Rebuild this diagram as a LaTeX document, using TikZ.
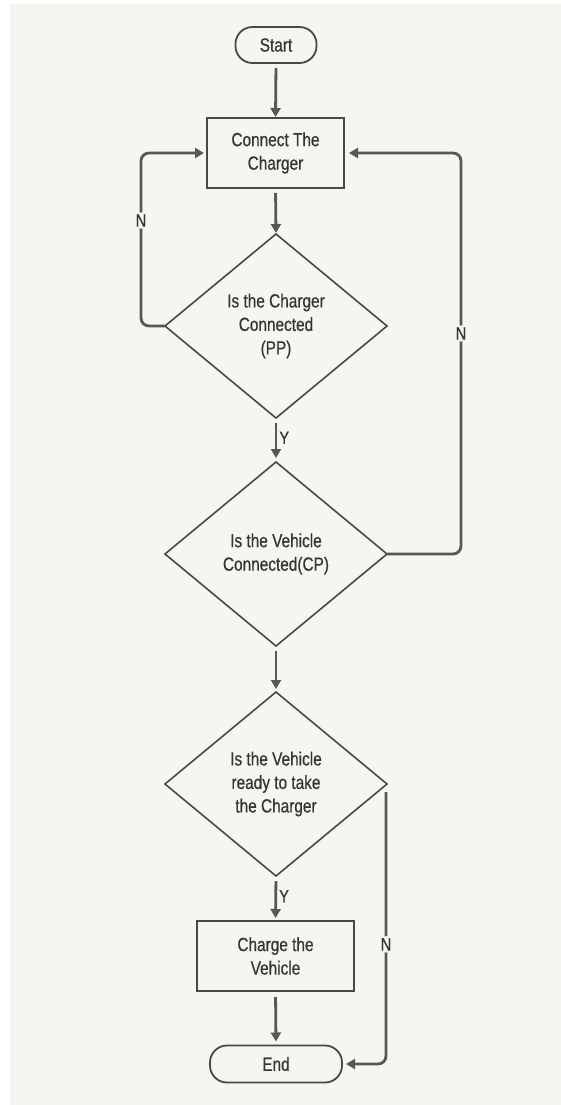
\documentclass[tikz,border=0pt]{standalone}
\usepackage{fontspec}
\setmainfont{Liberation Sans}[FakeStretch=0.81,FakeBold=0.6]
\usetikzlibrary{shapes.geometric,arrows.meta}
\definecolor{bgcol}{HTML}{F7F5F0}
\definecolor{shapecol}{HTML}{484848}
\definecolor{linecol}{HTML}{575757}
\definecolor{txtcol}{HTML}{353535}
\tikzset{
  basefont/.style={font=\fontsize{19}{23.5}\selectfont, text=txtcol, align=center},
  terminal/.style={basefont, draw=shapecol, line width=1.8pt, rectangle, rounded corners=17pt, inner sep=0pt, outer sep=0pt},
  process/.style={basefont, draw=shapecol, line width=1.8pt, rectangle, inner sep=0pt, outer sep=0pt},
  decision/.style={basefont, draw=shapecol, line width=1.6pt, diamond, inner sep=0pt, outer sep=0pt, minimum width=222pt, minimum height=184pt},
  conn/.style={draw=linecol, line width=2.8pt, rounded corners=8pt, -{Triangle[length=9pt,width=10pt]}},
  lab/.style={font=\fontsize{18}{20}\selectfont, text=txtcol, fill=bgcol, inner sep=2pt},
  ylab/.style={font=\fontsize{18}{20}\selectfont, text=txtcol, inner sep=2pt}
}
\begin{document}
\begin{tikzpicture}[x=1pt,y=-1pt]
\useasboundingbox (0,0) rectangle (561,1105);
\fill[white] (0,0) rectangle (561,1105);
\fill[bgcol] (10,4) rectangle (561,1105);

\node[terminal, minimum width=81pt, minimum height=36pt] (start) at (276,45) {Start};
\node[process, minimum width=137pt, minimum height=70pt] (box1) at (275.5,153) {Connect The\\Charger};
\node[decision] (d1) at (276,326) {Is the Charger\\Connected\\(PP)};
\node[decision] (d2) at (276,554) {Is the Vehicle\\Connected(CP)};
\node[decision] (d3) at (276,784) {Is the Vehicle\\ready to take\\the Charger};
\node[process, minimum width=157pt, minimum height=70pt] (box2) at (275.5,956) {Charge the\\Vehicle};
\node[terminal, minimum width=132pt, minimum height=37pt] (endn) at (276,1064) {End};

\coordinate (L1) at (141,326);
\coordinate (L2) at (141,153);
\coordinate (R1) at (461,554);
\coordinate (R2) at (461,153);

\draw[conn, shorten <=5pt, shorten >=1pt] (start.south) -- (box1.north);
\draw[conn, shorten <=5pt, shorten >=1pt] (box1.south) -- (d1.north);
\draw[conn] (d1.west) -- (L1) -- node[pos=0.61, lab]{N} (L2) -- ([xshift=-3pt]box1.west);
\draw[conn, shorten <=5pt, shorten >=4pt] (d1.south) -- node[ylab, right, pos=0.45]{Y} (d2.north);
\draw[conn] (d2.east) -- (R1) -- node[pos=0.55, lab]{N} (R2) -- ([xshift=5pt]box1.east);
\draw[conn, shorten <=5pt, shorten >=3pt] (d2.south) -- (d3.north);
\draw[conn, shorten <=5pt, shorten >=3pt] (d3.south) -- node[ylab, right, pos=0.45]{Y} (box2.north);
\draw[conn, shorten <=6pt, shorten >=4pt] (box2.south) -- (endn.north);
\draw[conn] ([xshift=-1pt,yshift=-8pt]d3.east) |- node[pos=0.28, lab]{N} ([xshift=4pt]endn.east);
\end{tikzpicture}
\end{document}
